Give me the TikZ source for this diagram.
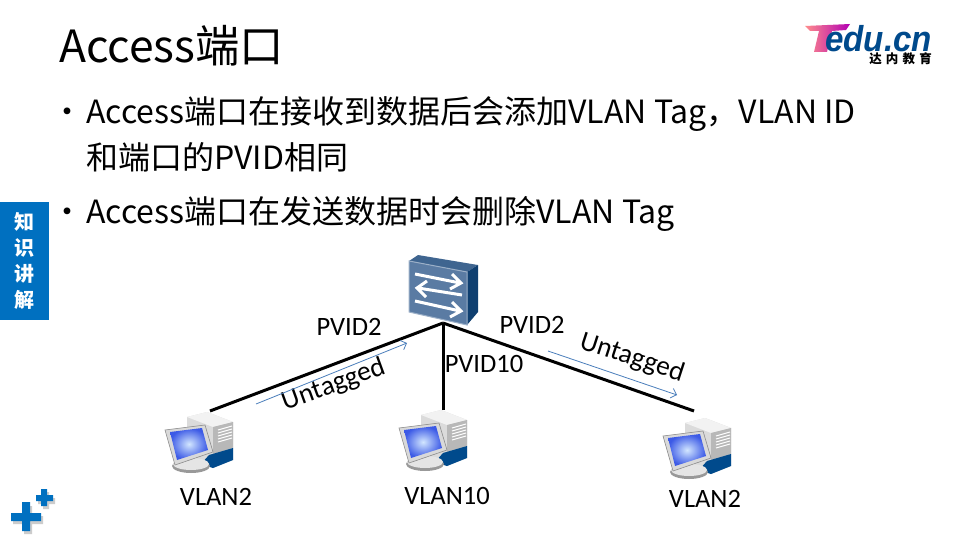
\documentclass[tikz,border=0pt]{standalone}
\usepackage{fontspec}
\usetikzlibrary{arrows.meta}
\setmainfont{Noto Sans CJK SC}
\newfontfamily\logofont{Liberation Sans}
\newfontfamily\labelfont{Carlito}
\definecolor{tabblue}{HTML}{0070C0}
\definecolor{logoblue}{HTML}{004A8C}
\definecolor{swfront}{HTML}{5A7BA3}
\definecolor{swtop}{HTML}{3F6590}
\definecolor{swside}{HTML}{0F3F70}
\definecolor{flowblue}{HTML}{4A7EBB}
\definecolor{pcscreen}{HTML}{3C5AE6}
\definecolor{pcglow}{HTML}{D2E6FF}
\tikzset{
	x=1pt, y=-1pt,
	title/.style={anchor=base west, inner sep=0, font=\fontsize{44.4}{44}\selectfont},
	bullet/.style={anchor=base west, inner sep=0, font=\fontsize{32}{32}\selectfont},
	label/.style={inner sep=0, font=\labelfont\fontsize{26.5}{27}\selectfont},
	untag/.style={inner sep=0, font=\labelfont\fontsize{27.5}{28}\selectfont},
	tabtext/.style={inner sep=0, text=white, font=\fontsize{20}{20}\selectfont\bfseries},
	link/.style={line width=3pt, black},
	flow/.style={-{Straight Barb[length=5pt,width=10pt]}, line width=0.8pt, color=flowblue},
	swarrow/.style={line width=3pt, white, line join=miter},
	pcicon/.pic={
		\fill[black!14] (22,5) -- (42,0) -- (68,10) -- (68,48) -- (48,56) -- (22,45) -- cycle;
		\fill[black!5] (22,5) -- (42,0) -- (68,10) -- (48,15) -- cycle;
		\fill[black!28] (48,15) -- (68,10) -- (68,36) -- (48,42) -- cycle;
		\foreach \i in {0,3,6,9,12} \draw[white, line width=1pt] (53,18+\i) -- (67,14+\i);
		\fill[logoblue] (44,43) -- (68,36) -- (68,48) -- (48,56) -- (36,52) -- cycle;
		\fill[black!40] (26,54) ellipse (19 and 7);
		\fill[black!10] (26,52) ellipse (18 and 6);
		\draw[fill=black!15, draw=black!45, line width=0.6pt] (0,18) -- (40,13) -- (48,40) -- (10,53) -- cycle;
		\shade[inner color=pcglow, outer color=pcscreen] (5,20) -- (37,16) -- (43,38) -- (12,48) -- cycle;
	}
}
\begin{document}
\begin{tikzpicture}
	%%%%% START %%%%%
	\useasboundingbox[fill=white] (0,0) rectangle (960,540);

	\node[title] (titletext) at (59,63) {Access端口};

	\node[bullet] (dotone) at (51,124) {•};
	\node[bullet] (lineone) at (86,124) {Access端口在接收到数据后会添加VLAN Tag，VLAN ID};
	\node[bullet] (linetwo) at (86,170) {和端口的PVID相同};
	\node[bullet] (dotthree) at (51,223) {•};
	\node[bullet] (linethree) at (86,223) {Access端口在发送数据时会删除VLAN Tag};

	% logo
	\shade[left color=red!45!white, right color=magenta!70!black] (805,26) -- (850,24) -- (846,30) -- (832,31) -- (827,52) -- (814,52) -- (819,31) -- (810,31) -- cycle;
	\node[anchor=base west, inner sep=0, xscale=0.92, text=logoblue, font=\logofont\fontsize{36}{36}\selectfont\bfseries\itshape] (logotext) at (826,52) {\kern-1pt edu.cn};
	\node[anchor=base east, inner sep=0, font=\fontsize{12.5}{12}\selectfont\bfseries] (logosub) at (932,64) {达\,\,内\,\,教\,\,育};

	% side tab
	\fill[tabblue] (0,202) rectangle (49,320);
	\node[tabtext] (tabone) at (24,222) {知};
	\node[tabtext] (tabtwo) at (24,248) {识};
	\node[tabtext] (tabthree) at (24,274) {讲};
	\node[tabtext] (tabfour) at (24,300) {解};

	% plus signs
	\fill[black!20] (13,516) rectangle (43,524) (24,506) rectangle (32,534);
	\fill[black!20] (38,498) rectangle (55,504) (43,492) rectangle (49,509);
	\fill[tabblue] (11,513) rectangle (41,521) (22,502) rectangle (30,531);
	\fill[tabblue] (36,495) rectangle (53,501) (41,489) rectangle (47,506);

	% links
	\coordinate (hub) at (443,323);
	\coordinate (pcleft) at (210,411);
	\coordinate (pcmid) at (443,410);
	\coordinate (pcright) at (694,411);
	\draw[link] (hub) -- (pcleft);
	\draw[link] (hub) -- (pcmid);
	\draw[link] (hub) -- (pcright);

	% switch
	\fill[swtop] (409,261) -- (418,255) -- (478,265) -- (467,272) -- cycle;
	\fill[swside] (467,272) -- (478,265) -- (478,312) -- (467,325) -- cycle;
	\draw[fill=swfront, draw=swfront!60!white, line width=1pt] (409,261) -- (467,272) -- (467,325) -- (409,312) -- cycle;
	\draw[swarrow] (415,274) -- (460,283) (452,274) -- (461,283) -- (450,289);
	\draw[swarrow] (462,295) -- (418,288) (427,281) -- (417,288) -- (426,297);
	\draw[swarrow] (415,301) -- (460,311) (452,302) -- (461,311) -- (450,317);

	\pic at (165,412) {pcicon};
	\pic at (399,410) {pcicon};
	\pic at (663,418) {pcicon};

	\node[label] (pvidleft) at (349,327) {PVID2};
	\node[label] (pvidmid) at (484,364) {PVID10};
	\node[label] (pvidright) at (532,325) {PVID2};
	\node[untag, rotate=20] (untagleft) at (334,385) {Untagged};
	\node[untag, rotate=-18] (untagright) at (632,358) {Untagged};
	\node[label] (vlanleft) at (216,497) {VLAN2};
	\node[label] (vlanmid) at (447,496) {VLAN10};
	\node[label] (vlanright) at (705,499) {VLAN2};

	\coordinate (flowla) at (256,404);
	\coordinate (flowlb) at (407,343);
	\coordinate (flowra) at (548,351);
	\coordinate (flowrb) at (677,395);
	\draw[flow] (flowla) -- (flowlb);
	\draw[flow] (flowra) -- (flowrb);
	%%%%% END %%%%%
\end{tikzpicture}
\end{document}
